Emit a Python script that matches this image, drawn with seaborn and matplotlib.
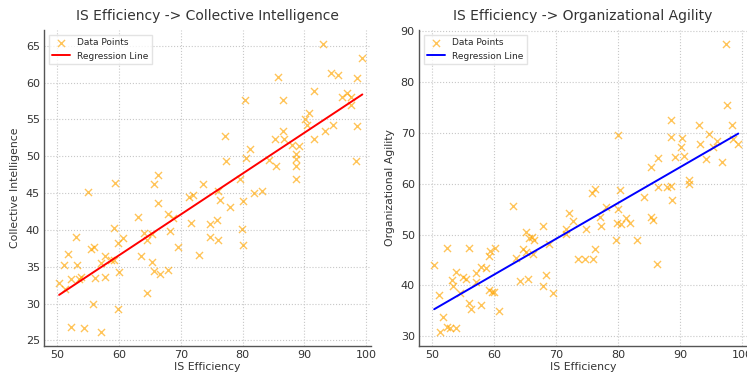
"""IS Efficiency regression scatter plots."""
import matplotlib
matplotlib.use("Agg")
import matplotlib.pyplot as plt
import numpy as np
import seaborn as sns

# left panel: IS Efficiency vs Collective Intelligence
ci_x = [50.3, 51.2, 51.1, 51.8, 52.3, 52.2, 53.0, 53.2, 53.5, 53.9, 54.4, 54.9, 55.4, 56.0, 55.8,
        56.1, 57.0, 57.1, 57.8, 57.8, 58.7, 59.2, 59.2, 59.3, 59.8, 60.0, 59.9, 60.7, 63.0, 63.6,
        64.1, 64.6, 64.6, 65.3, 65.3, 65.6, 65.6, 66.3, 66.3, 66.6, 67.9, 67.9, 68.3, 68.8, 69.5,
        71.4, 72.0, 71.6, 72.9, 73.6, 74.8, 74.8, 75.8, 76.1, 76.1, 76.3, 77.1, 77.3, 78.0, 79.6,
        79.9, 80.0, 80.1, 80.4, 80.6, 81.2, 81.9, 83.1, 84.3, 85.3, 85.4, 85.7, 86.5, 86.5, 86.7,
        88.0, 88.6, 88.7, 88.6, 88.6, 89.2, 90.1, 90.4, 90.8, 91.5, 91.6, 93.1, 93.3, 94.4, 94.7,
        95.5, 96.1, 96.9, 97.5, 97.6, 98.5, 98.5, 98.3, 99.4]
ci_y = [32.8, 32.0, 35.2, 36.8, 33.4, 26.8, 39.1, 35.2, 33.3, 33.6, 26.7, 45.2, 37.4, 37.7, 29.9,
        33.5, 35.5, 26.2, 36.5, 33.6, 35.9, 35.9, 40.3, 46.4, 38.2, 34.3, 29.3, 38.9, 41.7, 36.5,
        39.6, 38.7, 31.4, 35.6, 39.5, 34.4, 46.3, 47.4, 43.7, 34.0, 42.2, 34.6, 39.8, 41.6, 37.7,
        44.5, 44.7, 41.0, 36.6, 46.2, 40.8, 39.0, 41.4, 38.6, 45.3, 44.1, 52.8, 49.3, 43.1, 46.9,
        40.2, 38.0, 44.0, 57.6, 49.8, 51.0, 45.0, 45.3, 49.5, 52.4, 48.7, 60.8, 53.5, 57.6, 52.4,
        51.6, 50.3, 49.7, 48.7, 46.9, 51.4, 55.0, 54.2, 55.9, 58.9, 52.3, 65.2, 53.4, 61.3, 54.3,
        61.0, 58.0, 58.6, 58.0, 57.0, 60.7, 54.1, 49.3, 63.4]

# right panel: IS Efficiency vs Organizational Agility
oa_x = [50.3, 51.1, 51.8, 51.3, 52.3, 52.4, 52.9, 53.2, 53.3, 53.8, 53.8, 54.5, 54.9, 55.5, 56.0,
        55.9, 56.2, 57.0, 57.0, 57.8, 57.8, 58.6, 59.1, 59.2, 59.3, 59.7, 60.0, 60.1, 60.7, 63.0,
        63.5, 64.1, 64.6, 65.1, 65.2, 65.5, 65.6, 66.1, 66.3, 66.4, 67.8, 67.9, 68.3, 68.8, 69.5,
        71.6, 71.5, 72.0, 72.7, 73.5, 74.6, 74.8, 75.7, 76.2, 76.0, 76.3, 77.0, 77.3, 78.0, 79.6,
        79.9, 79.9, 79.8, 80.4, 80.3, 81.2, 81.9, 83.1, 84.2, 85.3, 85.6, 85.3, 86.4, 86.5, 86.3,
        87.9, 88.5, 88.7, 88.5, 88.5, 89.1, 90.1, 90.3, 90.7, 91.4, 91.5, 93.0, 93.2, 94.2, 94.6,
        95.3, 95.9, 96.8, 97.4, 97.5, 98.3, 98.5, 99.4]
oa_y = [44.0, 38.1, 33.7, 30.9, 47.3, 31.9, 31.6, 41.1, 39.8, 31.6, 42.7, 38.5, 41.7, 41.2, 47.3,
        36.6, 35.4, 42.4, 40.6, 36.2, 43.6, 43.5, 39.1, 45.7, 46.8, 38.6, 38.6, 47.3, 34.9, 55.6,
        45.3, 40.9, 47.1, 46.6, 50.4, 41.2, 49.4, 49.5, 46.1, 48.9, 51.7, 39.9, 42.1, 48.1, 38.5,
        51.0, 50.1, 54.2, 52.7, 45.2, 45.1, 51.1, 58.2, 59.0, 45.1, 47.1, 53.4, 51.7, 55.4, 48.9,
        55.0, 69.6, 52.3, 52.1, 58.8, 53.2, 52.3, 48.9, 57.3, 53.4, 52.9, 63.3, 65.1, 59.3, 44.3,
        59.4, 59.5, 56.8, 72.6, 69.1, 65.3, 67.3, 68.9, 65.5, 60.7, 59.9, 71.5, 67.8, 64.8, 69.7,
        67.3, 68.3, 64.3, 87.4, 75.5, 71.6, 68.7, 67.9]

sns.set_style("white")
plt.rcParams["font.family"] = ["DejaVu Sans"]

fig = plt.figure(figsize=(7.47, 3.74), dpi=100)
W, H = 747, 374
ax1 = fig.add_axes([44 / W, 28 / H, 327 / W, 316 / H])
ax2 = fig.add_axes([419 / W, 28 / H, 328 / W, 316 / H])

panels = [
    (ax1, ci_x, ci_y, "red", "Collective Intelligence", "IS Efficiency -> Collective Intelligence"),
    (ax2, oa_x, oa_y, "blue", "Organizational Agility", "IS Efficiency -> Organizational Agility"),
]

for ax, x, y, color, ylabel, title in panels:
    ax.grid(True, linestyle=":", color="#c8c8c8", linewidth=0.8)
    ax.set_axisbelow(True)
    sns.scatterplot(x=x, y=y, ax=ax, marker="x", color="orange", alpha=0.65, s=26,
                    linewidth=1.0, label="Data Points")
    sns.regplot(x=np.array(x), y=np.array(y), ax=ax, scatter=False, ci=None, color=color,
                line_kws={"linewidth": 1.4}, label="Regression Line")
    ax.set_xlim(47.85, 100.8)
    ax.margins(y=0.05)
    ax.set_title(title, fontsize=10, color="#333333", pad=7)
    ax.set_xlabel("IS Efficiency", fontsize=7.8, color="#333333", labelpad=1)
    ax.set_ylabel(ylabel, fontsize=7.8, color="#333333", labelpad=4)
    ax.tick_params(labelsize=8, colors="#333333", direction="in", length=3, width=0.8, pad=3)
    for side in ["top", "right"]:
        ax.spines[side].set_visible(False)
    for side in ["left", "bottom"]:
        ax.spines[side].set_color("#555555")
        ax.spines[side].set_linewidth(1.0)
    ax.legend(loc="upper left", fontsize=6.5, frameon=True, edgecolor="#dddddd",
              fancybox=False, borderpad=0.4, handlelength=2.0)

fig.savefig("out.png", dpi=100)
plt.close(fig)
